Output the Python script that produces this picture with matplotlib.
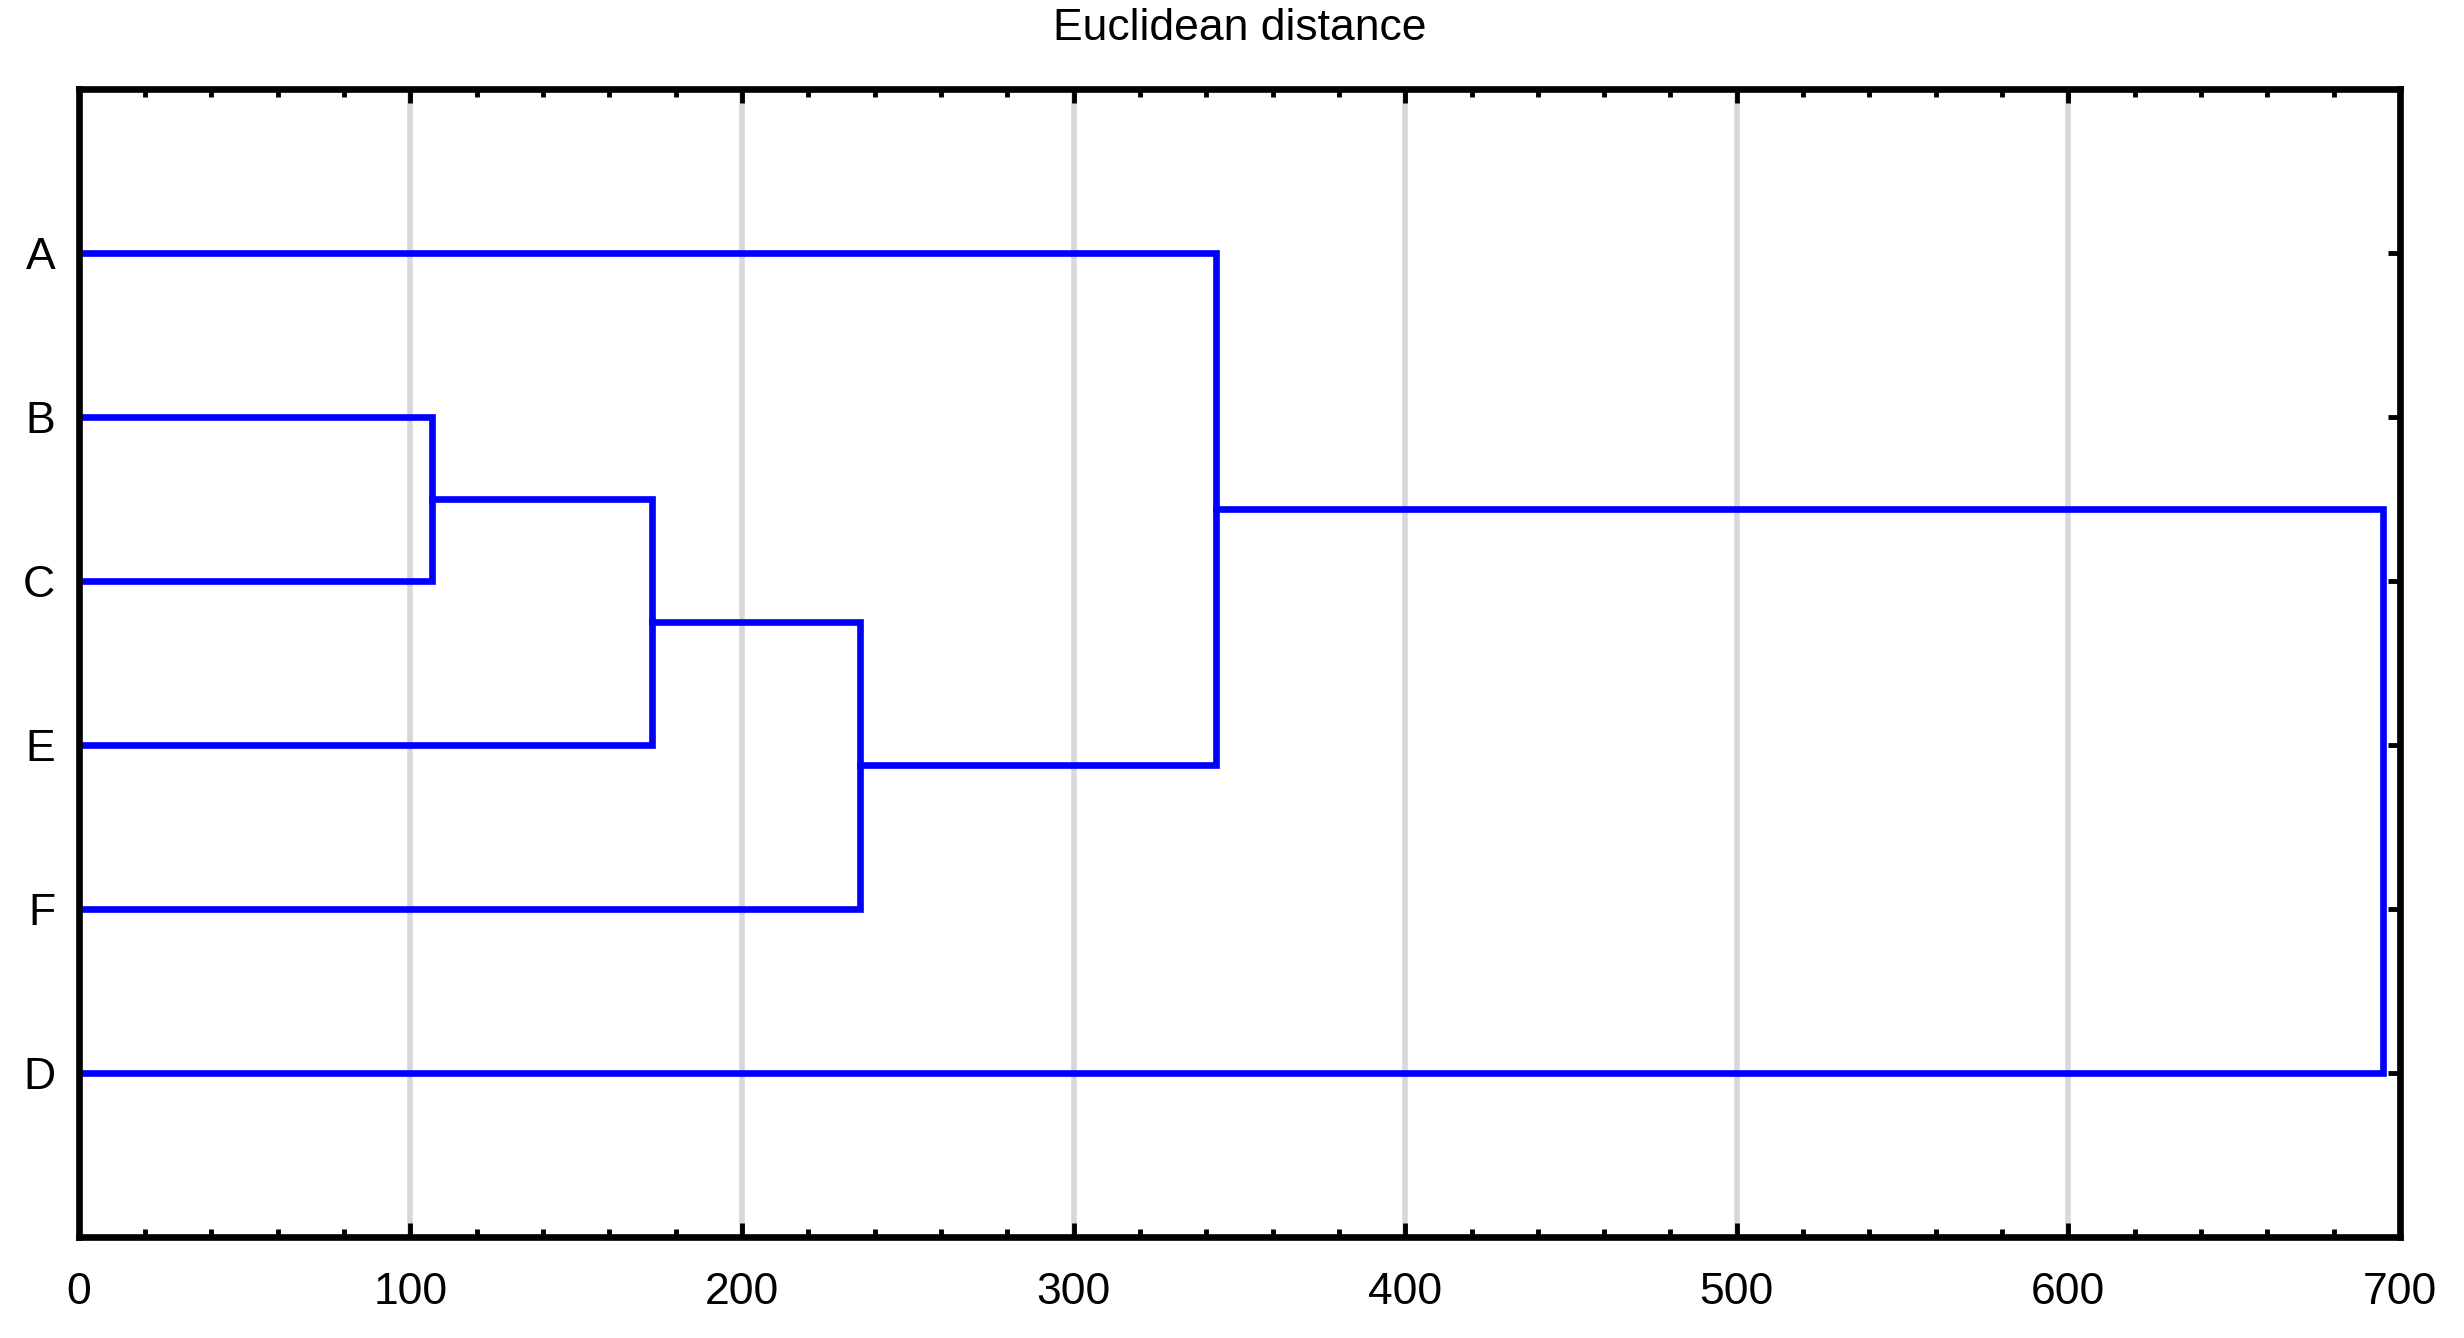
import numpy as np
import matplotlib
matplotlib.use("Agg")
import matplotlib.pyplot as plt
from matplotlib.ticker import MultipleLocator

plt.rcParams['font.family'] = ['Liberation Sans', 'DejaVu Sans']

# Leaves in plotted order (top to bottom)
leaves = ["A", "B", "C", "E", "F", "D"]
# Merges: (left cluster, right cluster, linkage distance)
merge_left = ["B", "BC", "BCE", "A", "ABCEF"]
merge_right = ["C", "E", "F", "BCEF", "D"]
merge_dist = [106.5, 173.0, 235.5, 343.0, 695.0]

blue = "#0000ff"

fig = plt.figure(figsize=(24.64, 13.38), dpi=100)
ax = fig.add_axes([0.032, 0.0755, 0.942, 0.858])

# position and height of every cluster
pos = {name: i + 1 for i, name in enumerate(leaves)}
height = {name: 0.0 for name in leaves}

for left, right, d in zip(merge_left, merge_right, merge_dist):
    yl, yr = pos[left], pos[right]
    ax.plot([height[left], d, d, height[right]], [yl, yl, yr, yr],
            color=blue, lw=4.8, solid_joinstyle='miter', zorder=3)
    name = left + right
    pos[name] = (yl + yr) / 2
    height[name] = d

ax.set_xlim(0, 700)
ax.set_ylim(len(leaves) + 1, 0)
ax.set_yticks(range(1, len(leaves) + 1))
ax.set_yticklabels(leaves)
ax.xaxis.set_major_locator(MultipleLocator(100))
ax.xaxis.set_minor_locator(MultipleLocator(20))

ax.grid(axis='x', which='major', color='#d8d8d8', lw=4, zorder=0)
ax.set_axisbelow(True)

for s in ax.spines.values():
    s.set_linewidth(4.8)
    s.set_zorder(4)

ax.tick_params(axis='x', which='major', direction='in', length=10, width=3.5,
               top=True, bottom=True, labelsize=32, pad=25)
ax.tick_params(axis='x', which='minor', direction='in', length=6, width=3.5,
               top=True, bottom=True)
ax.tick_params(axis='y', which='major', direction='in', length=9, width=3.5,
               left=True, right=True, labelsize=32, pad=17)

fig.text(0.032 + 0.942 / 2, 1 - 29 / 1338, "Euclidean distance",
         ha='center', va='center', fontsize=32)

fig.savefig("out.png", dpi=100, facecolor='white')
